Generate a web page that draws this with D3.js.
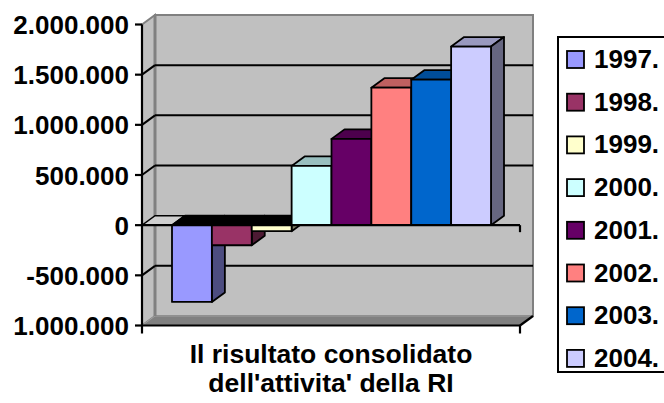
<!DOCTYPE html>
<html>
<head>
<meta charset="utf-8">
<script src="https://cdn.jsdelivr.net/npm/d3@7"></script>
<style>
  html, body { margin: 0; padding: 0; background: #ffffff; }
  svg { display: block; }
  text { font-family: "Liberation Sans", Arial, sans-serif; font-weight: bold; fill: #000; }
</style>
</head>
<body>
<script>
// ---- data ----
const categoryLines = ["Il risultato consolidato", "dell'attivita' della RI"];
const years = ["1997.", "1998.", "1999.", "2000.", "2001.", "2002.", "2003.", "2004."];
const values = [-765000, -200000, -60000, 590000, 860000, 1370000, 1450000, 1780000];
const colors = ["#9999FF", "#993366", "#FFFFCC", "#CCFFFF", "#660066", "#FF8080", "#0066CC", "#CCCCFF"];
const yTicks = [-1000000, -500000, 0, 500000, 1000000, 1500000, 2000000];

// ---- layout ----
const W = 664, H = 403;
const L = 142, R = 520, T = 24.5, B = 325.5;
const DX = 13, DY = -9.5;

const svg = d3.select("body").append("svg").attr("width", W).attr("height", H);

const y = d3.scaleLinear().domain([-1000000, 2000000]).range([B, T]);
const x = d3.scaleBand().domain(years).range([L + 30, R - 29]).padding(0);
const y0 = y(0);

const locale = d3.formatLocale({ decimal: ",", thousands: ".", grouping: [3], currency: ["", ""], minus: "-" });
const fmt = locale.format(",d");

const shade = (c, f) => { const r = d3.rgb(c); return d3.rgb(r.r * f, r.g * f, r.b * f).toString(); };
const poly = pts => "M" + pts.map(p => p.join(",")).join("L") + "Z";

// back wall
svg.append("rect")
  .attr("x", L + DX).attr("y", T + DY)
  .attr("width", R - L).attr("height", B - T)
  .attr("fill", "#c0c0c0").attr("stroke", "#808080").attr("stroke-width", 2);

// left wall
svg.append("path")
  .attr("d", poly([[L, T], [L + DX, T + DY], [L + DX, B + DY], [L, B]]))
  .attr("fill", "#c0c0c0").attr("stroke", "#808080").attr("stroke-width", 2);

// floor
svg.append("path")
  .attr("d", poly([[L, B], [R, B], [R + DX, B + DY], [L + DX, B + DY]]))
  .attr("fill", "#808080").attr("stroke", "#a0a0a0").attr("stroke-width", 1);

// wall corner
svg.append("line")
  .attr("x1", L + DX).attr("x2", L + DX).attr("y1", T + DY).attr("y2", B + DY)
  .attr("stroke", "#808080").attr("stroke-width", 3);

// gridlines
const inner = yTicks.filter(v => v !== 0 && v !== 2000000 && v !== -1000000);
inner.forEach(v => {
  const yy = y(v);
  svg.append("line")
    .attr("x1", L + DX).attr("x2", R + DX).attr("y1", yy + DY).attr("y2", yy + DY)
    .attr("stroke", "#000").attr("stroke-width", 2);
  svg.append("line")
    .attr("x1", L).attr("x2", L + DX).attr("y1", yy).attr("y2", yy + DY)
    .attr("stroke", "#000").attr("stroke-width", 2);
});

// zero plane (visible part left of the first bar)
const xFirst = x(years[0]);
svg.append("path")
  .attr("d", poly([[L, y0], [xFirst, y0], [xFirst + DX, y0 + DY], [L + DX, y0 + DY]]))
  .attr("fill", "#cfcfcf").attr("stroke", "#000").attr("stroke-width", 1.5);

// bars
const bw = x.bandwidth();
years.forEach((yr, i) => {
  const v = values[i];
  const x0 = x(yr), x1 = x0 + bw;
  const top = Math.min(y(v), y0), bot = Math.max(y(v), y0);
  const g = svg.append("g").attr("stroke", "#000").attr("stroke-width", 1.8).attr("stroke-linejoin", "round");
  g.append("path")
    .attr("d", poly([[x0, top], [x1, top], [x1 + DX, top + DY], [x0 + DX, top + DY]]))
    .attr("fill", v < 0 ? "#000000" : shade(colors[i], 0.75));
  g.append("path")
    .attr("d", poly([[x1, top], [x1 + DX, top + DY], [x1 + DX, bot + DY], [x1, bot]]))
    .attr("fill", shade(colors[i], 0.5));
  g.append("rect")
    .attr("x", x0).attr("y", top).attr("width", bw).attr("height", bot - top)
    .attr("fill", colors[i]);
});

// axes lines
const ax = svg.append("g").attr("stroke", "#000").attr("stroke-width", 2.2).attr("fill", "none");
ax.append("line").attr("x1", L).attr("x2", L).attr("y1", T).attr("y2", B + 8);
ax.append("line").attr("x1", L).attr("x2", R).attr("y1", B).attr("y2", B);
ax.append("line").attr("x1", R).attr("x2", R).attr("y1", B).attr("y2", B + 8);
ax.append("line").attr("x1", R).attr("x2", R + DX).attr("y1", B).attr("y2", B + DY);
ax.append("line").attr("x1", L).attr("x2", R).attr("y1", y0).attr("y2", y0);
ax.append("line").attr("x1", R).attr("x2", R).attr("y1", y0).attr("y2", y0 + 7);
yTicks.forEach(v => {
  ax.append("line").attr("x1", L - 7).attr("x2", L).attr("y1", y(v)).attr("y2", y(v));
});

// y tick labels (clipped at left like the reference)
svg.append("clipPath").attr("id", "lblclip")
  .append("rect").attr("x", 13).attr("y", 0).attr("width", W).attr("height", H);
const lbl = svg.append("g").attr("clip-path", "url(#lblclip)");
yTicks.forEach(v => {
  lbl.append("text")
    .attr("x", 129).attr("y", y(v) + 9.5)
    .attr("text-anchor", "end").attr("font-size", 26)
    .text(fmt(v));
});

// category title
categoryLines.forEach((t, i) => {
  svg.append("text")
    .attr("x", (L + R) / 2).attr("y", 363 + i * 29)
    .attr("text-anchor", "middle").attr("font-size", 26.5)
    .text(t);
});

// legend
svg.append("rect")
  .attr("x", 558).attr("y", 37).attr("width", 130).attr("height", 335)
  .attr("fill", "#fff").attr("stroke", "#000").attr("stroke-width", 2);
years.forEach((yr, i) => {
  const by = 68 + i * 42.7;
  svg.append("rect")
    .attr("x", 567).attr("y", by - 17).attr("width", 17).attr("height", 17)
    .attr("fill", colors[i]).attr("stroke", "#000").attr("stroke-width", 1.8);
  svg.append("text")
    .attr("x", 594).attr("y", by)
    .attr("font-size", 26)
    .text(yr);
});
</script>
</body>
</html>
